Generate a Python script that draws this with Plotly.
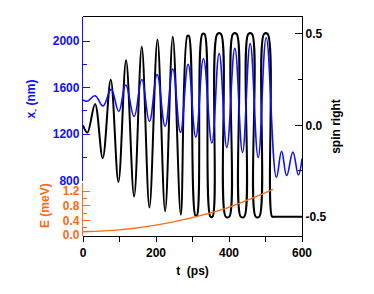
import plotly.graph_objects as go

# ---- data ----
# spin right (black): extrema positions in ps (flat-topped extrema once saturated)
t_spin = [0, 12, 33, 54, 76, 97, 118, 140, 161, 182, 204, 225, 246, 268,
          286, 290, 308, 312, 327, 333, 349, 355, 368, 378, 391, 401,
          411, 421, 432, 442, 453, 463, 473, 483, 496, 506, 518, 524, 600]
spin = [0.0, -0.04, 0.117, -0.18, 0.25, -0.31, 0.356, -0.39, 0.43, -0.45,
        0.47, -0.47, 0.485, -0.49,
        0.49, 0.49, -0.495, -0.495, 0.5, 0.5, -0.5, -0.5, 0.5, 0.5, -0.5, -0.5,
        0.5, 0.5, -0.5, -0.5, 0.5, 0.5, -0.5, -0.5, 0.5, 0.5, -0.5, -0.5, -0.5]

# x- position (blue), nm
t_x = [0, 12, 33, 55, 77, 98, 117, 140, 161, 182, 203, 225, 246, 267, 288,
       309, 330, 353, 373, 394, 416, 437, 458, 480, 502, 530, 544, 558, 575,
       590, 600]
x_nm = [1495, 1483, 1530, 1442, 1585, 1396, 1623, 1351, 1670, 1310, 1712,
        1267, 1761, 1215, 1800, 1174, 1851, 1124, 1895, 1085, 1938, 1042,
        1979, 999, 2029, 828, 1051, 843, 1045, 849, 990]

# energy (orange), meV
t_E = [0, 100, 200, 285, 380, 450, 521]
E_meV = [0.09, 0.14, 0.27, 0.44, 0.69, 0.95, 1.245]

# ticks
x_ticks = [0, 200, 400, 600]
spin_ticks = [-0.5, 0.0, 0.5]
spin_ticktext = ["-0.5", "0.0", "0.5"]
nm_ticks = [800, 1200, 1600, 2000]
E_ticks = [0.0, 0.4, 0.8, 1.2]

BLUE = "#1010ff"
ORANGE = "#ff6a14"
FONT = "Liberation Sans"

fig = go.Figure()
fig.add_trace(go.Scatter(x=t_spin, y=spin, mode="lines", yaxis="y",
                         line=dict(color="black", width=2.0, shape="spline", smoothing=1.0),
                         showlegend=False))
fig.add_trace(go.Scatter(x=t_x, y=x_nm, mode="lines", yaxis="y2",
                         line=dict(color=BLUE, width=1.6, shape="spline", smoothing=1.2),
                         showlegend=False))
fig.add_trace(go.Scatter(x=t_E, y=E_meV, mode="lines", yaxis="y3",
                         line=dict(color=ORANGE, width=1.4, shape="spline"),
                         showlegend=False))

tf = dict(family=FONT, size=12, weight="bold")

# page has an 8px body margin, so margins are shifted to compensate
fig.update_layout(
    width=374, height=294,
    margin=dict(l=75, r=80, t=9, b=66),
    paper_bgcolor="white", plot_bgcolor="rgba(0,0,0,0)",
    font=dict(family=FONT, size=12, color="black"),
    xaxis=dict(domain=[0, 1], range=[0, 600], anchor="y", automargin=False,
               showline=True, linecolor="black", linewidth=1.3, mirror=True,
               showgrid=False, zeroline=False,
               tickmode="array", tickvals=x_ticks, ticks="outside", ticklen=5,
               tickwidth=1.2, tickcolor="black",
               minor=dict(tickmode="array", tickvals=[100, 300, 500], ticks="outside",
                          ticklen=5, tickwidth=1.2, tickcolor="black"),
               tickfont=dict(tf, color="black"),
               title=dict(text="t  (ps)", font=dict(tf, color="black"), standoff=8)),
    yaxis=dict(domain=[0, 1], range=[-0.606, 0.593], anchor="x", side="right",
               automargin=False,
               showline=True, linecolor="black", linewidth=1.3,
               showgrid=False, zeroline=False,
               tickmode="array", tickvals=spin_ticks, ticktext=spin_ticktext,
               ticks="inside", ticklen=7, tickwidth=1.2, tickcolor="black",
               minor=dict(tickmode="array", tickvals=[-0.25, 0.25], ticks="inside",
                          ticklen=4, tickwidth=1.2, tickcolor="black"),
               tickfont=dict(tf, color="black"),
               title=dict(text="spin right", font=dict(tf, color="black"), standoff=6)),
    yaxis2=dict(domain=[0.251, 1], range=[796, 2208], anchor="x", side="left",
                automargin=False,
                showline=True, linecolor=BLUE, linewidth=1.3,
                showgrid=False, zeroline=False,
                tickmode="array", tickvals=nm_ticks,
                ticks="inside", ticklen=7, tickwidth=1.2, tickcolor=BLUE,
                minor=dict(tickmode="array", tickvals=[1000, 1400, 1800, 2200],
                           ticks="inside", ticklen=4, tickwidth=1.2, tickcolor=BLUE),
                tickfont=dict(tf, color=BLUE),
                title=dict(text="x<sub>-</sub> (nm)", font=dict(tf, color=BLUE), standoff=14)),
    yaxis3=dict(domain=[0, 0.242], range=[-0.027, 1.418], anchor="x", side="left",
                automargin=False,
                showline=True, linecolor=ORANGE, linewidth=1.3,
                showgrid=False, zeroline=False,
                tickmode="array", tickvals=E_ticks, ticktext=["0.0", "0.4", "0.8", "1.2"],
                ticks="inside", ticklen=7, tickwidth=1.2, tickcolor=ORANGE,
                minor=dict(tickmode="array", tickvals=[0.2, 0.6, 1.0, 1.4],
                           ticks="inside", ticklen=4, tickwidth=1.2, tickcolor=ORANGE),
                tickfont=dict(tf, color=ORANGE)),
    annotations=[dict(text="E (meV)", xref="paper", yref="paper",
                      x=-38 / 219, y=30 / 219, xanchor="center", yanchor="middle",
                      textangle=-90, showarrow=False,
                      font=dict(tf, color=ORANGE))],
)

fig.write_html("out.html")
